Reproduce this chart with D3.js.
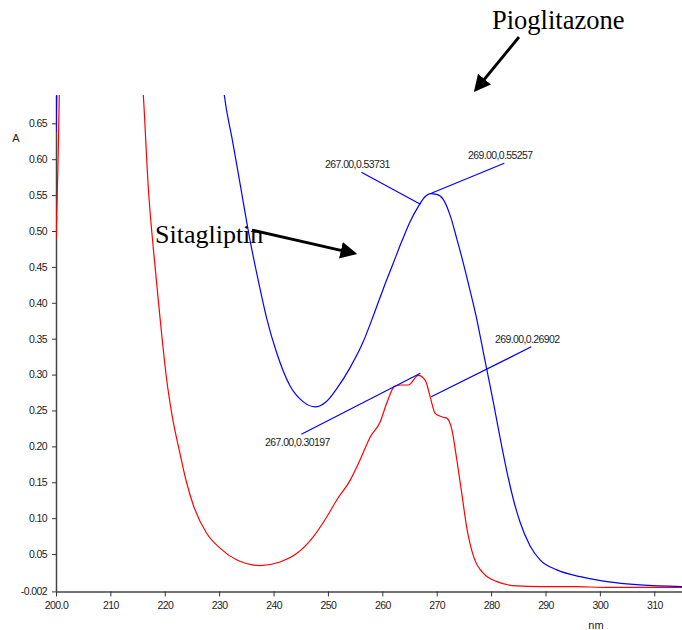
<!DOCTYPE html>
<html>
<head>
<meta charset="utf-8">
<script src="https://cdn.jsdelivr.net/npm/d3@7"></script>
<style>
  body { margin: 0; background: #fff; }
  .tick text, .peak { font-family: "Liberation Sans Narrow", "Arial Narrow", Arial, sans-serif; }
</style>
</head>
<body>
<svg id="chart" width="682" height="630"></svg>
<script>
// wavelength (nm), absorbance
var pioWl  = [200.0, 200.2, 201, 230.5, 230.95, 232.37, 233.84, 235.68, 236.91, 238.75, 240.59, 243.04,
  245.48, 247.64, 249.5, 250.4, 251.6, 254.1, 256.5, 258.4, 260.2, 262.0, 263.6, 265.1, 266.6, 267.9,
  268.8, 270.0, 271.2, 272.5, 273.7, 274.9, 276.1, 277.4, 278.6, 279.8, 280.4, 281.7, 282.9, 284.1,
  285.3, 287.2, 289.0, 292.1, 296.4, 301.3, 307.4, 315.1];
var pioAbs = [0.638, 0.72, 1.2, 0.72, 0.689, 0.629, 0.566, 0.487, 0.441, 0.378, 0.330, 0.284,
  0.262, 0.255, 0.261, 0.268, 0.280, 0.310, 0.346, 0.383, 0.420, 0.455, 0.486, 0.513, 0.534, 0.548,
  0.552, 0.551, 0.544, 0.521, 0.489, 0.455, 0.418, 0.376, 0.330, 0.285, 0.262, 0.210, 0.165, 0.126,
  0.095, 0.061, 0.042, 0.028, 0.0185, 0.0116, 0.007, 0.0046];

var sitaWl  = [200.0, 200.6, 201, 215.8, 216.06, 217.0, 217.9, 219.1, 220.4, 221.3, 222.8, 224.0, 225.3,
  227.7, 230.2, 233.2, 237.5, 241.2, 244.3, 247.3, 249.8, 251.6, 254.1, 255.9, 257.8, 259.6, 260.8,
  262.3, 263.6, 264.8, 266.6, 267.9, 268.8, 269.7, 271.2, 271.9, 272.8, 273.7, 274.6, 275.5, 276.8,
  278.6, 281.1, 284.7, 289.0, 295.1, 301.3, 315.1];
var sitaAbs = [0.489, 0.69, 0.95, 0.72, 0.689, 0.557, 0.475, 0.381, 0.290, 0.245, 0.190, 0.150, 0.117,
  0.079, 0.058, 0.042, 0.034, 0.039, 0.051, 0.074, 0.102, 0.125, 0.153, 0.181, 0.2135, 0.234, 0.260,
  0.284, 0.2855, 0.2855, 0.299, 0.292, 0.269, 0.246, 0.2405, 0.239, 0.223, 0.181, 0.135, 0.088, 0.046,
  0.023, 0.0116, 0.0056, 0.0046, 0.0046, 0.0037, 0.0037];

// picked peaks
var peakWl  = [267.00, 269.00, 267.00, 269.00];
var peakAbs = [0.53731, 0.55257, 0.30197, 0.26902];

var xTicks = [200, 210, 220, 230, 240, 250, 260, 270, 280, 290, 300, 310];
var yTicks = [-0.002, 0.05, 0.10, 0.15, 0.20, 0.25, 0.30, 0.35, 0.40, 0.45, 0.50, 0.55, 0.60, 0.65];

var svg = d3.select("#chart");

var x = d3.scaleLinear().domain([200, 315.1]).range([56, 682]);
var y = d3.scaleLinear().domain([-0.002, 0.689]).range([591.4, 95.3]);

svg.append("clipPath").attr("id", "plot")
  .append("rect").attr("x", 56).attr("y", 95).attr("width", 626).attr("height", 497);

// axes
var xAxis = d3.axisBottom(x).tickValues(xTicks).tickSizeInner(5).tickSizeOuter(0)
  .tickFormat(function(d) { return d === 200 ? "200.0" : d; });
var gx = svg.append("g").attr("transform", "translate(0," + y(-0.002) + ")").call(xAxis);
gx.selectAll("text").attr("font-size", 10.5).attr("letter-spacing", -0.6)
  .attr("fill", "#222").attr("dy", "0.95em");

var yAxis = d3.axisLeft(y).tickValues(yTicks).tickSizeInner(4).tickSizeOuter(0)
  .tickFormat(function(d) { return d === -0.002 ? "-0.002" : d.toFixed(2); });
var gy = svg.append("g").attr("transform", "translate(56,0)").call(yAxis);
gy.selectAll("text").attr("font-size", 10.5).attr("letter-spacing", -0.6)
  .attr("fill", "#222").attr("x", -9);

svg.selectAll(".domain").attr("stroke", "#444").attr("stroke-width", 1.5);
svg.selectAll(".tick line").attr("stroke", "#333");

svg.append("text").attr("x", 16).attr("y", 142).attr("text-anchor", "middle")
  .attr("font-family", "Arial, sans-serif").attr("font-size", 11).attr("fill", "#222").text("A");
svg.append("text").attr("x", 596).attr("y", 629).attr("text-anchor", "middle")
  .attr("font-family", "Arial, sans-serif").attr("font-size", 11).attr("fill", "#222").text("nm");

// spectra
var line = d3.line()
  .x(function(d) { return x(d[0]); })
  .y(function(d) { return y(d[1]); })
  .curve(d3.curveMonotoneX);

var curves = svg.append("g").attr("clip-path", "url(#plot)");
curves.append("path").datum(d3.zip(sitaWl, sitaAbs))
  .attr("d", line).attr("fill", "none").attr("stroke", "#ff0000").attr("stroke-width", 1.2);
curves.append("path").datum(d3.zip(pioWl, pioAbs))
  .attr("d", line).attr("fill", "none").attr("stroke", "#0000ff").attr("stroke-width", 1.2);

// peak pick labels: leader offsets in px
var leadDx = [-59, 73, -119, 100];
var leadDy = [-32, -30, 61, -50];

peakWl.forEach(function(w, i) {
  var px = x(w), py = y(peakAbs[i]);
  var ex = px + leadDx[i], ey = py + leadDy[i];
  svg.append("line").attr("x1", px).attr("y1", py).attr("x2", ex).attr("y2", ey)
    .attr("stroke", "#0000ff").attr("stroke-width", 1.2);
  svg.append("text").attr("class", "peak")
    .attr("x", ex - 4).attr("y", leadDy[i] > 0 ? ey + 12 : ey - 4)
    .attr("text-anchor", "middle").attr("font-size", 10.5).attr("letter-spacing", -0.6)
    .attr("fill", "#222")
    .text(w.toFixed(2) + "," + peakAbs[i].toFixed(5));
});

// compound labels with arrows
svg.append("defs").append("marker").attr("id", "head")
  .attr("viewBox", "0 0 10 10").attr("refX", 8).attr("refY", 5)
  .attr("markerWidth", 6).attr("markerHeight", 6).attr("markerUnits", "strokeWidth")
  .attr("orient", "auto")
  .append("path").attr("d", "M0,0L10,5L0,10Z").attr("fill", "#000");

svg.append("text").attr("x", 492).attr("y", 29)
  .attr("font-family", "'Liberation Serif', 'Times New Roman', serif").attr("font-size", 26.5)
  .attr("fill", "#000").text("Pioglitazone");
svg.append("line").attr("x1", 519).attr("y1", 37).attr("x2", 476).attr("y2", 89.5)
  .attr("stroke", "#000").attr("stroke-width", 2.8).attr("marker-end", "url(#head)");

svg.append("text").attr("x", 155).attr("y", 243)
  .attr("font-family", "'Liberation Serif', 'Times New Roman', serif").attr("font-size", 26)
  .attr("fill", "#000").text("Sitagliptin");
svg.append("line").attr("x1", 252).attr("y1", 230).attr("x2", 354).attr("y2", 253.3)
  .attr("stroke", "#000").attr("stroke-width", 2.8).attr("marker-end", "url(#head)");
</script>
</body>
</html>
